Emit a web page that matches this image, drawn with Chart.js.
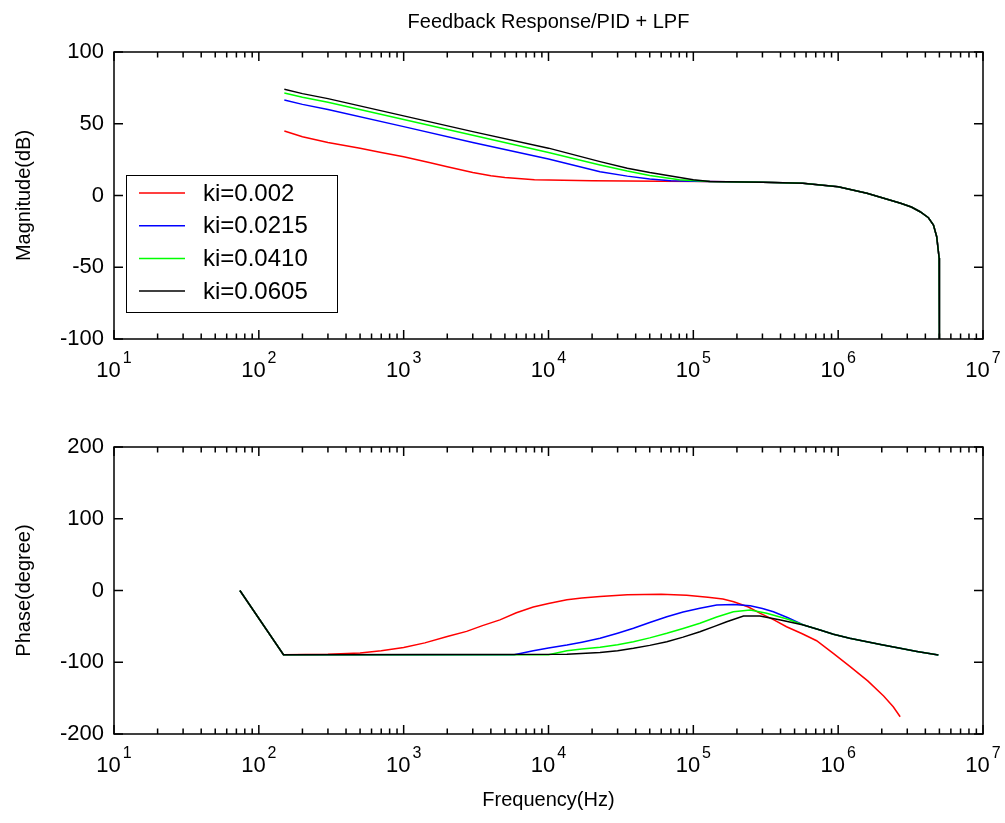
<!DOCTYPE html>
<html>
<head>
<meta charset="utf-8">
<title>Feedback Response/PID + LPF</title>
<script src="https://cdn.jsdelivr.net/npm/chart.js@4.4.0/dist/chart.umd.min.js"></script>
<style>
  html, body { margin: 0; padding: 0; background: #fff; }
  #wrap { position: relative; width: 1005px; height: 823px; }
  #cMag { position: absolute; left: 0; top: 0; }
  #cPhase { position: absolute; left: 0; top: 420px; }
</style>
</head>
<body>
<div id="wrap">
  <canvas id="cMag" width="1005" height="420" style="width:1005px;height:420px"></canvas>
  <canvas id="cPhase" width="1005" height="403" style="width:1005px;height:403px"></canvas>
</div>
<script>
// ---- series / ticks ----
const seriesLabels = ['ki=0.002', 'ki=0.0215', 'ki=0.0410', 'ki=0.0605'];
const seriesColors = ['#ff0000', '#0000ff', '#00ff00', '#000000'];

const decadeExps = [1, 2, 3, 4, 5, 6, 7];
const minorMults = [2, 3, 4, 5, 6, 7, 8, 9];
const magTicks = [-100, -50, 0, 50, 100];
const phaseTicks = [-200, -100, 0, 100, 200];

// magnitude (dB) vs frequency (Hz)
const magFreqRed = [150, 200, 300, 500, 700, 1000, 1500, 2000, 3000, 4000, 5000, 8000, 20000, 60000];
const magRed     = [45, 41, 37, 33, 30, 27, 23, 20, 16, 13.8, 12.5, 11, 10.3, 10];
const magFreqBlue = [150, 200, 300, 1000, 3000, 10000, 22700, 35000, 50000, 70000, 100000];
const magBlue     = [66.5, 63.5, 60, 48, 37, 25.5, 16.6, 13.5, 11.5, 10.3, 10];
const magFreqGreen = [150, 200, 300, 1000, 3000, 10000, 22700, 35000, 50000, 80000, 120000];
const magGreen     = [71.4, 68.5, 65, 53, 42, 30, 21.3, 17, 14, 11, 10];
const magFreqBlack = [150, 200, 300, 1000, 3000, 10000, 22700, 35000, 50000, 100000, 125000];
const magBlack     = [74, 71, 67.5, 55.5, 44.5, 33, 23.6, 19, 16, 11, 10];
// shared high-frequency part
const magTailFreq = [130000, 300000, 570000, 1000000, 1580000, 2700000, 3200000, 3680000, 4200000, 4550000, 4790000, 4980000, 5000000];
const magTail     = [9.8, 9.3, 8.5, 6.1, 1.5, -5.4, -8, -11.3, -15.5, -20.6, -28.7, -43.6, -100];

// phase (degree) vs frequency (Hz)
const phaseHeadFreq = [74, 148];
const phaseHead     = [0, -89.5];
const phaseFreqRed = [300, 500, 700, 1000, 1400, 2000, 2720, 3500, 4620, 6000, 7850, 10000, 13400, 17000, 22700, 35000, 60000, 90000,
                      126000, 160000, 190000, 240000, 290000, 360000, 440000, 560000, 710000, 930000, 1210000, 1600000, 2060000, 2400000, 2680000];
const phaseRed     = [-89, -87, -84, -79.5, -73, -64, -57, -49, -41, -31, -23, -18, -13, -10.5, -8.5, -6, -5.3, -6.5,
                      -9.5, -12, -15.6, -23, -31.8, -41, -50.5, -60, -70, -88, -106, -126, -147, -162, -176];
const phaseFreqBlue = [5800, 7850, 10000, 13400, 17000, 22700, 30000, 38600, 50000, 65600, 85000, 111000, 145000, 190000, 247000, 300000, 357000, 450000];
const phaseBlue     = [-89.5, -84, -80, -76, -72, -66.6, -59.5, -52.7, -44.5, -36.5, -30, -24.8, -20.2, -19.5, -21.2, -25, -29.6, -38];
const phaseFreqGreen = [10000, 13400, 17000, 22700, 30000, 38600, 50000, 65600, 85000, 111000, 145000, 189000, 247000, 321000, 450000];
const phaseGreen     = [-89.5, -84, -81.5, -79.2, -75.5, -71.4, -66, -59.7, -53, -45.7, -37, -29.6, -27.2, -31.8, -40];
const phaseFreqBlack = [13400, 22700, 30000, 38600, 50000, 65600, 85000, 111000, 140000, 170000, 222000, 288000, 400000];
const phaseBlack     = [-89, -86.5, -84, -80.6, -76.5, -71.4, -65, -57.4, -50, -43.5, -35.5, -35.5, -41];
const phaseTailFreq = [576000, 750000, 927000, 1200000, 1580000, 2000000, 2680000, 3500000, 4920000];
const phaseTail     = [-48, -55, -61, -66.5, -71.4, -75.5, -80.6, -85, -90];

const FONT = '"Liberation Sans", Arial, sans-serif';
Chart.defaults.font.family = FONT;
Chart.defaults.color = '#000';

const pts = (fs, vs) => fs.map((f, i) => ({ x: f, y: vs[i] }));

function lineSet(i, data) {
  return {
    label: seriesLabels[i], data,
    borderColor: seriesColors[i], backgroundColor: seriesColors[i],
    borderWidth: 1.5, pointRadius: 0, tension: 0, fill: false,
    order: 3 - i  // black drawn last, on top
  };
}

// box, inward ticks, 10^n labels, title
const frame = {
  id: 'frame',
  afterDraw(chart, args, o) {
    const { ctx, chartArea: a, scales: { x, y } } = chart;
    ctx.save();
    ctx.strokeStyle = '#000';
    ctx.lineWidth = 1.5;
    ctx.strokeRect(a.left, a.top, a.width, a.height);
    ctx.beginPath();
    decadeExps.forEach(n => {
      const mults = n < 7 ? [1, ...minorMults] : [1];
      mults.forEach(k => {
        const px = x.getPixelForValue(k * Math.pow(10, n));
        const len = k === 1 ? 9 : 5.5;
        ctx.moveTo(px, a.bottom); ctx.lineTo(px, a.bottom - len);
        ctx.moveTo(px, a.top); ctx.lineTo(px, a.top + len);
      });
    });
    y.ticks.forEach(t => {
      const py = y.getPixelForValue(t.value);
      ctx.moveTo(a.left, py); ctx.lineTo(a.left + 9, py);
      ctx.moveTo(a.right, py); ctx.lineTo(a.right - 9, py);
    });
    ctx.stroke();

    // x tick labels as 10 with superscript exponent
    ctx.fillStyle = '#000';
    ctx.textBaseline = 'alphabetic';
    decadeExps.forEach(n => {
      const px = x.getPixelForValue(Math.pow(10, n));
      ctx.font = '22px ' + FONT;
      const wBase = ctx.measureText('10').width;
      ctx.font = '16px ' + FONT;
      const wExp = ctx.measureText(String(n)).width;
      const x0 = px - (wBase + 2 + wExp) / 2;
      ctx.font = '22px ' + FONT;
      ctx.textAlign = 'left';
      ctx.fillText('10', x0, a.bottom + 38);
      ctx.font = '16px ' + FONT;
      ctx.fillText(String(n), x0 + wBase + 2, a.bottom + 24);
    });

    if (o.title) {
      ctx.font = '20px ' + FONT;
      ctx.textAlign = 'center';
      ctx.textBaseline = 'middle';
      ctx.fillText(o.title, (a.left + a.right) / 2, 22);
    }
    ctx.restore();
  }
};

// legend box inside the magnitude axes
const boxLegend = {
  id: 'boxLegend',
  afterDraw(chart) {
    const { ctx, chartArea: a } = chart;
    const L = a.left + 12, T = a.top + 123, W = 211, H = 137;
    ctx.save();
    ctx.fillStyle = '#fff';
    ctx.fillRect(L, T, W, H);
    ctx.strokeStyle = '#000';
    ctx.lineWidth = 1;
    ctx.strokeRect(L + 0.5, T + 0.5, W, H);
    ctx.font = '24px ' + FONT;
    ctx.textBaseline = 'middle';
    ctx.textAlign = 'left';
    seriesLabels.forEach((lab, i) => {
      const cy = T + 18 + i * 32.7;
      ctx.strokeStyle = seriesColors[i];
      ctx.lineWidth = 1.5;
      ctx.beginPath();
      ctx.moveTo(L + 13, cy); ctx.lineTo(L + 59, cy);
      ctx.stroke();
      ctx.fillStyle = '#000';
      ctx.fillText(lab, L + 77, cy + 1);
    });
    ctx.restore();
  }
};

function yAxis(title, ticks) {
  return {
    min: ticks[0], max: ticks[ticks.length - 1],
    afterBuildTicks: s => { s.ticks = ticks.map(v => ({ value: v })); },
    afterFit: s => { s.width = 106; },
    grid: { display: false, drawTicks: false },
    border: { display: false },
    ticks: { color: '#000', padding: 10, font: { size: 22 } },
    title: { display: true, text: title, color: '#000', font: { size: 20 }, padding: 4 }
  };
}

function xAxis(title, h) {
  return {
    type: 'logarithmic', min: 10, max: 1e7,
    afterFit: s => { s.height = h; },
    grid: { display: false, drawTicks: false },
    border: { display: false },
    ticks: { display: false },
    title: title
      ? { display: true, text: title, color: '#000', font: { size: 20 }, padding: { top: 0, bottom: 11 } }
      : { display: false }
  };
}

const baseOpts = {
  responsive: false, animation: false,
  plugins: { legend: { display: false }, tooltip: { enabled: false } }
};

new Chart(document.getElementById('cMag'), {
  type: 'line',
  data: {
    datasets: [
      lineSet(0, pts(magFreqRed.concat(magTailFreq), magRed.concat(magTail))),
      lineSet(1, pts(magFreqBlue.concat(magTailFreq), magBlue.concat(magTail))),
      lineSet(2, pts(magFreqGreen.concat(magTailFreq), magGreen.concat(magTail))),
      lineSet(3, pts(magFreqBlack.concat(magTailFreq), magBlack.concat(magTail)))
    ]
  },
  options: {
    ...baseOpts,
    layout: { padding: { left: 8, right: 22, top: 52, bottom: 81 } },
    plugins: { ...baseOpts.plugins, frame: { title: 'Feedback Response/PID + LPF' } },
    scales: { x: xAxis(null, 0), y: yAxis('Magnitude(dB)', magTicks) }
  },
  plugins: [frame, boxLegend]
});

new Chart(document.getElementById('cPhase'), {
  type: 'line',
  data: {
    datasets: [
      lineSet(0, pts(phaseHeadFreq.concat(phaseFreqRed), phaseHead.concat(phaseRed))),
      lineSet(1, pts(phaseHeadFreq.concat(phaseFreqBlue, phaseTailFreq), phaseHead.concat(phaseBlue, phaseTail))),
      lineSet(2, pts(phaseHeadFreq.concat(phaseFreqGreen, phaseTailFreq), phaseHead.concat(phaseGreen, phaseTail))),
      lineSet(3, pts(phaseHeadFreq.concat(phaseFreqBlack, phaseTailFreq), phaseHead.concat(phaseBlack, phaseTail)))
    ]
  },
  options: {
    ...baseOpts,
    layout: { padding: { left: 8, right: 22, top: 27, bottom: 0 } },
    plugins: { ...baseOpts.plugins, frame: {} },
    scales: { x: xAxis('Frequency(Hz)', 89), y: yAxis('Phase(degree)', phaseTicks) }
  },
  plugins: [frame]
});
</script>
</body>
</html>
